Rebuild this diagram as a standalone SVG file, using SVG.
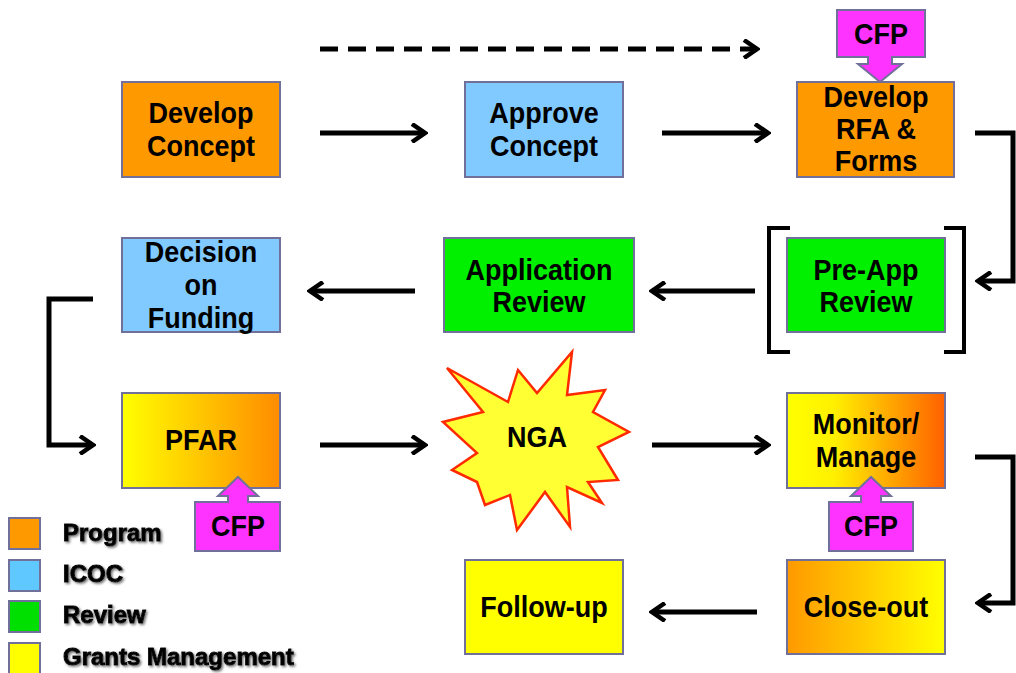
<svg xmlns="http://www.w3.org/2000/svg" width="1016" height="673" viewBox="0 0 1016 673">
<style>
.box{stroke:#70709a;stroke-width:2}
.cfp{fill:#ff33ff;stroke:#70709a;stroke-width:2}
.t{font-family:"Liberation Sans",Arial,sans-serif;font-weight:bold;font-size:27px;fill:#000;text-anchor:middle}
.lg{font-family:"Liberation Sans",Arial,sans-serif;font-weight:bold;font-size:24px;fill:#000;stroke:#000;stroke-width:1;filter:url(#sh)}
.c{fill:none;stroke:#000;stroke-width:5}
.br{fill:none;stroke:#000;stroke-width:4}
</style>
<defs>
<marker id="arr" viewBox="0 0 20 20" refX="17" refY="10" markerWidth="20" markerHeight="20" markerUnits="userSpaceOnUse" orient="auto">
<path d="M4,1 L17,10 L4,19" fill="none" stroke="#000" stroke-width="4.5" stroke-dasharray="none"/>
</marker>
<linearGradient id="gPfar" x1="0" y1="0" x2="1" y2="0"><stop offset="0" stop-color="#ffff00"/><stop offset="1" stop-color="#ff8c00"/></linearGradient>
<linearGradient id="gMon" x1="0" y1="0" x2="1" y2="0"><stop offset="0" stop-color="#ffff00"/><stop offset="0.3" stop-color="#fff000"/><stop offset="1" stop-color="#ff6000"/></linearGradient>
<linearGradient id="gClose" x1="0" y1="0" x2="1" y2="0"><stop offset="0" stop-color="#ff9900"/><stop offset="1" stop-color="#ffff00"/></linearGradient>
<filter id="sh" x="-5%" y="-20%" width="115%" height="150%"><feDropShadow dx="1.5" dy="1.5" stdDeviation="0.8" flood-color="#777"/></filter>
</defs>

<g id="connectors">
<path class="c" d="M320,49 H757" stroke-dasharray="18 10" marker-end="url(#arr)"/>
<path class="c" d="M320,133 H425" marker-end="url(#arr)"/>
<path class="c" d="M662,133 H768" marker-end="url(#arr)"/>
<path class="c" d="M975,133 H1013 V281 H978" marker-end="url(#arr)"/>
<path class="c" d="M755,291 H652" marker-end="url(#arr)"/>
<path class="c" d="M415,291 H310" marker-end="url(#arr)"/>
<path class="c" d="M93,299 H49 V445 H93" marker-end="url(#arr)"/>
<path class="c" d="M320,445 H425" marker-end="url(#arr)"/>
<path class="c" d="M652,445 H768" marker-end="url(#arr)"/>
<path class="c" d="M975,457 H1013 V603 H978" marker-end="url(#arr)"/>
<path class="c" d="M757,612 H652" marker-end="url(#arr)"/>
</g>

<g id="develop-concept">
<rect class="box" x="122" y="82" width="158" height="95" fill="#ff9900"/>
<text class="t" transform="translate(201,123) scale(1,1.1)">Develop</text>
<text class="t" transform="translate(201,156) scale(1,1.1)">Concept</text>
</g>

<g id="approve-concept">
<rect class="box" x="465" y="82" width="158" height="95" fill="#80caff"/>
<text class="t" transform="translate(544,123) scale(1,1.1)">Approve</text>
<text class="t" transform="translate(544,156) scale(1,1.1)">Concept</text>
</g>

<g id="develop-rfa">
<rect class="box" x="797" y="82" width="157" height="95" fill="#ff9900"/>
<text class="t" transform="translate(876,107) scale(1,1.1)">Develop</text>
<text class="t" transform="translate(876,139) scale(1,1.1)">RFA &amp;</text>
<text class="t" transform="translate(876,171) scale(1,1.1)">Forms</text>
</g>

<g id="cfp-rfa">
<path class="cfp" d="M837,10 H925 V57 H892 V64 H902 L880,82 L858,64 H868 V57 H837 Z"/>
<text class="t" transform="translate(881,44) scale(1,1.1)">CFP</text>
</g>

<g id="pre-app-review">
<path class="br" d="M790,228 H769 V352 H790"/>
<path class="br" d="M944,228 H964 V352 H944"/>
<rect class="box" x="787" y="238" width="158" height="94" fill="#00f000"/>
<text class="t" transform="translate(866,280) scale(1,1.1)">Pre-App</text>
<text class="t" transform="translate(866,312) scale(1,1.1)">Review</text>
</g>

<g id="application-review">
<rect class="box" x="444" y="238" width="190" height="94" fill="#00f000"/>
<text class="t" transform="translate(539,280) scale(1,1.1)">Application</text>
<text class="t" transform="translate(539,312) scale(1,1.1)">Review</text>
</g>

<g id="decision-on-funding">
<rect class="box" x="122" y="238" width="158" height="94" fill="#80caff"/>
<text class="t" transform="translate(201,262) scale(1,1.1)">Decision</text>
<text class="t" transform="translate(201,295) scale(1,1.1)">on</text>
<text class="t" transform="translate(201,328) scale(1,1.1)">Funding</text>
</g>

<g id="pfar">
<rect class="box" x="122" y="393" width="158" height="95" fill="url(#gPfar)"/>
<text class="t" transform="translate(201,450) scale(1,1.1)">PFAR</text>
</g>

<g id="cfp-pfar">
<path class="cfp" d="M195,551 V502 H228 V496 H218 L238,477 L258,496 H248 V502 H280 V551 Z"/>
<text class="t" transform="translate(238,536) scale(1,1.1)">CFP</text>
</g>

<g id="nga">
<path d="M572,352 L567,395 L605,390 L593,412 L629,432 L598,447 L618,480 L588,482 L602,503 L567,487 L570,527 L545,492 L517,530 L510,495 L485,505 L477,482 L452,470 L477,453 L443,422 L483,412 L447,368 L508,402 L518,370 L537,393 Z" fill="#ffff33" stroke="#ff2a00" stroke-width="2.5" stroke-linejoin="miter"/>
<text class="t" transform="translate(537,447) scale(1,1.1)">NGA</text>
</g>

<g id="monitor-manage">
<rect class="box" x="787" y="393" width="158" height="95" fill="url(#gMon)"/>
<text class="t" transform="translate(866,434) scale(1,1.1)">Monitor/</text>
<text class="t" transform="translate(866,467) scale(1,1.1)">Manage</text>
</g>

<g id="cfp-monitor">
<path class="cfp" d="M829,551 V502 H861 V496 H851 L871,477 L891,496 H881 V502 H913 V551 Z"/>
<text class="t" transform="translate(871,536) scale(1,1.1)">CFP</text>
</g>

<g id="close-out">
<rect class="box" x="787" y="560" width="158" height="94" fill="url(#gClose)"/>
<text class="t" transform="translate(866,617) scale(1,1.1)">Close-out</text>
</g>

<g id="follow-up">
<rect class="box" x="465" y="560" width="158" height="94" fill="#ffff00"/>
<text class="t" transform="translate(544,617) scale(1,1.1)">Follow-up</text>
</g>

<g id="legend">
<rect class="box" x="9" y="518" width="31" height="31" fill="#ff9900"/>
<text class="lg" x="63" y="541">Program</text>
<rect class="box" x="9" y="560" width="31" height="31" fill="#5ec8ff"/>
<text class="lg" x="63" y="582">ICOC</text>
<rect class="box" x="9" y="601" width="31" height="31" fill="#00e000"/>
<text class="lg" x="63" y="623">Review</text>
<rect class="box" x="9" y="643" width="31" height="31" fill="#ffff00"/>
<text class="lg" x="63" y="665">Grants Management</text>
</g>
</svg>
